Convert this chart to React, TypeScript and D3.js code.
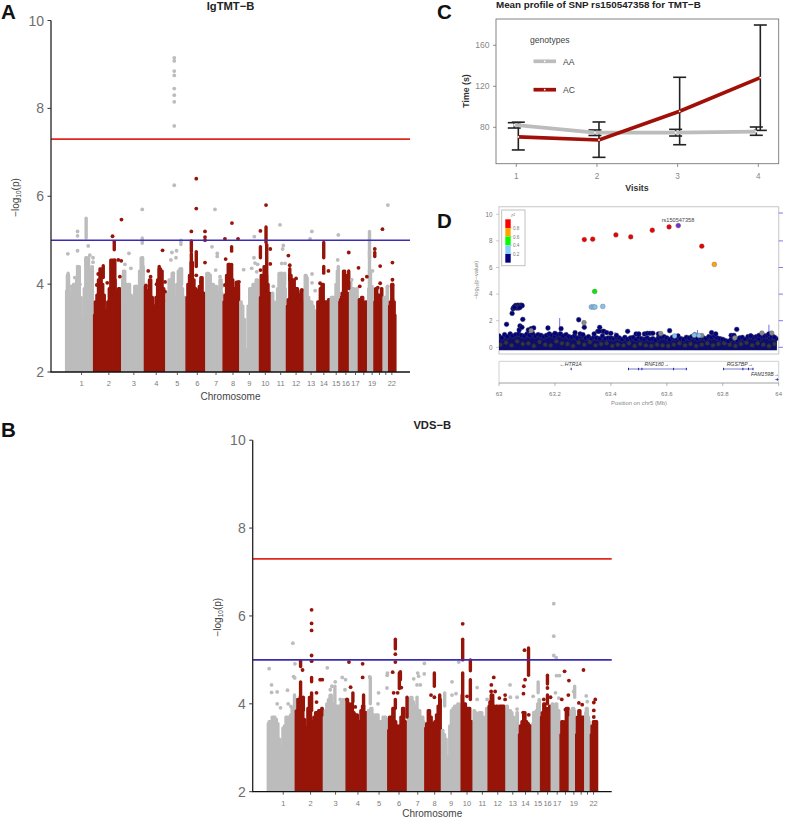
import React from "react";
import * as d3 from "d3";

const FONT = "'Liberation Sans', Arial, sans-serif";
const GREY = "#bcbcbc";
const RED = "#961408";

// ---------- Manhattan data ----------
const chromStarts = [0, 244, 489, 687, 873, 1050, 1222, 1373, 1518, 1690, 1794, 1925, 2080, 2190, 2307, 2382, 2475, 2552, 2633, 2688, 2767, 2816, 2881];
const chromTickPos = [140, 378, 596, 791, 975, 1149, 1312, 1460, 1603, 1742, 1876, 2010, 2141, 2252, 2360, 2444, 2528, 2600, 2673, 2737, 2792, 2845];
const chromTickLabels = ["1", "2", "3", "4", "5", "6", "7", "8", "9", "10", "11", "12", "13", "14", "15", "16", "17", "", "19", "", "", "22"];
const yTicks = [2, 4, 6, 8, 10];
const genomeWideLine = 7.3;
const suggestiveLine = 5;

const topsA = [
  [3.85, 4.2, 3.7, 3.55, 3.9, 4.0, 3.6, 4.1, 4.4, 3.7, 3.2, 2.8, 3.9, 4.6, 4.6, 4.3, 3.9, 4.4],
  [3.3, 3.6, 3.75, 4.1, 4.35, 4.0, 3.75, 3.4, 3.3, 3.6, 3.9, 4.55, 4.55, 4.1, 3.8, 3.6, 3.9, 3.7],
  [4.1, 4.3, 4.0, 3.8, 4.0, 3.75, 3.7, 3.7, 3.95, 3.9, 3.75, 4.3, 4.6, 4.4],
  [3.95, 3.85, 3.8, 4.1, 3.7, 3.5, 3.4, 3.7, 4.1, 4.35, 4.3, 3.9, 3.6],
  [3.6, 3.8, 4.1, 3.95, 4.25, 3.7, 3.6, 4.0, 4.3, 4.35, 3.9, 3.6, 3.7],
  [3.7, 4.0, 4.2, 4.5, 4.1, 3.9, 3.7, 3.85, 3.95, 4.15, 3.8, 3.75],
  [4.25, 4.25, 4.2, 3.95, 4.0, 3.8, 3.95, 3.7, 3.8, 4.1, 3.8],
  [3.6, 3.75, 4.2, 4.45, 4.4, 4.1, 3.6, 3.9, 4.05, 4.0],
  [3.6, 3.5, 3.2, 2.5, 2.4, 3.5, 3.9, 3.8, 4.0, 3.95, 4.1, 3.7],
  [3.7, 4.2, 3.9, 4.4, 4.2, 4.0, 3.8, 3.6],
  [3.8, 3.6, 3.3, 3.4, 3.9, 4.25, 4.25, 4.2, 4.2, 3.9],
  [3.5, 3.65, 4.2, 3.9, 4.1, 3.85, 3.9, 3.75, 3.7, 3.85, 3.6],
  [4.2, 4.15, 3.7, 3.5, 3.6, 3.5, 3.4, 3.35],
  [3.6, 3.6, 3.9, 4.0, 3.55, 3.6, 3.6, 3.65],
  [3.7, 3.6, 3.65, 3.7, 4.0, 4.3],
  [3.6, 3.7, 3.8, 4.3, 4.2, 3.8, 3.7],
  [4.1, 3.8, 3.9, 3.75, 3.6, 3.9],
  [3.65, 3.6, 3.7, 3.6, 3.3, 3.6],
  [3.9, 4.3, 3.95, 3.9],
  [3.6, 3.9, 3.65, 3.75, 3.7, 3.9],
  [3.7, 3.7, 3.6, 3.95],
  [3.5, 3.6, 4.0, 3.6, 3.3],
];
const pointsA: number[][] = [
  [948, 9.15], [948, 9.08], [948, 8.85], [948, 8.75], [948, 8.45], [948, 8.3], [948, 8.15], [948, 7.6], [948, 6.25],
  [20, 4.69], [105, 5.2], [105, 5.1], [105, 4.76], [198, 4.87], [212, 4.66], [240, 4.6], [240, 4.5], [81, 4.15], [52, 3.95], [125, 4.0],
  [553, 4.7], [570, 4.36], [518, 4.45], [669, 5.7], [620, 3.95],
  [928, 4.72], [968, 4.76], [963, 4.6], [919, 4.55], [940, 4.25],
  [1303, 5.7], [1323, 4.63], [1323, 4.7], [1277, 4.85], [1309, 4.32], [1259, 4.2], [1347, 4.17], [1365, 3.95],
  [1646, 5.08], [1643, 4.6], [1652, 4.48], [1675, 4.45], [1553, 4.33], [1623, 4.36], [1667, 4.28],
  [1870, 5.35], [1899, 4.88], [1893, 4.8], [1885, 4.47], [1914, 4.47], [1812, 3.95],
  [2147, 5.2], [2132, 5.03], [2149, 4.23], [2149, 4.03], [2176, 3.85],
  [2378, 5.12], [2373, 4.55], [2330, 3.7],
  [2554, 4.37], [2495, 4.1], [2525, 3.87],
  [2696, 4.8], [2676, 4.3], [2810, 5.8], [2810, 3.95],
  [488, 5.47], [410, 5.09], [460, 4.55], [486, 4.53], [285, 4.23], [273, 3.98], [364, 4.03], [474, 4.17],
  [721, 4.3], [742, 4.17], [701, 3.97], [846, 4.77], [868, 4.05], [868, 3.83], [794, 4.0],
  [1140, 6.4], [1140, 5.72], [1097, 5.2], [1216, 5.2], [1216, 5.07], [1216, 5.0], [1216, 4.49], [1181, 4.05], [1140, 4.2],
  [1451, 5.39], [1390, 5.03], [1504, 5.03], [1396, 4.57], [1390, 3.98], [1512, 4.05],
  [1748, 5.8], [1699, 5.21], [1785, 4.8], [1785, 4.46], [1700, 4.32],
  [1943, 4.65], [1955, 4.43], [2010, 4.13], [2060, 3.87],
  [2292, 4.3], [2219, 4.02],
  [2469, 4.72], [2423, 3.8],
  [2589, 4.1], [2565, 3.95], [2627, 4.17],
  [2763, 5.25], [2743, 4.41], [2743, 4.02], [2722, 3.92],
  [2850, 4.49], [2850, 4.1], [2850, 3.97], [2850, 3.65],
];
const spikesA: number[][] = [
  [180, 3.5, 4.6], [180, 5.05, 5.5], [23, 3.6, 4.25], [105, 3.7, 4.4], [669, 4.93, 5.05], [672, 4.25, 4.6], [1006, 4.9, 5.0], [1012, 4.0, 4.35],
  [2097, 3.8, 4.2], [2378, 3.7, 4.4], [2650, 4.6, 5.2], [2650, 4.28, 4.75], [2696, 4.63, 4.72],
  [1885, 4.0, 4.25], [1910, 4.0, 4.25],
  [425, 4.78, 4.97], [430, 3.65, 4.55], [329, 4.15, 4.42], [817, 3.9, 4.4], [1097, 4.74, 4.98], [1097, 4.2, 4.69], [1140, 4.4, 4.74],
  [1448, 4.75, 4.85], [1428, 3.9, 4.45], [1448, 3.9, 4.45], [1748, 4.95, 5.3], [1699, 4.6, 4.85], [1754, 3.9, 4.9], [1955, 4.1, 4.35], [2251, 4.6, 4.95], [2251, 4.25, 4.4], [2469, 3.9, 4.3],
];

const topsB = [
  [3.55, 3.6, 3.6, 3.7, 3.7, 3.65, 3.55, 3.2, 3.0, 2.9, 3.45, 3.5, 3.7, 3.7, 3.7, 3.75, 3.9, 3.9],
  [3.85, 4.1, 3.85, 4.15, 3.8, 3.65, 3.45, 3.3, 3.9, 4.15, 3.6, 3.45, 3.7, 3.8, 3.8, 3.85, 3.85, 3.9],
  [3.7, 3.85, 4.0, 4.1, 4.2, 4.0, 3.95, 3.95, 3.95, 3.95, 3.9, 4.05, 4.1, 4.1],
  [4.1, 4.0, 3.85, 4.0, 3.8, 3.7, 3.75, 3.5, 3.6, 3.85, 3.95, 3.8, 3.8],
  [3.85, 3.8, 3.9, 3.75, 3.7, 3.75, 3.75, 3.6, 3.6, 3.55, 3.7, 3.7, 3.65],
  [3.4, 3.7, 3.6, 3.9, 3.6, 3.5, 3.4, 3.5, 3.7, 3.9, 3.6, 3.5],
  [3.75, 4.1, 4.15, 4.05, 3.95, 3.85, 3.8, 3.85, 3.7, 3.7, 3.6],
  [3.45, 3.55, 3.85, 3.7, 3.5, 3.55, 3.6, 3.75, 3.95, 4.1],
  [3.4, 3.3, 3.2, 2.8, 2.6, 3.5, 3.85, 3.9, 3.95, 3.95, 4.0, 3.9],
  [4.2, 3.95, 4.0, 3.6, 3.9, 3.9, 3.6, 3.6],
  [3.85, 3.8, 3.75, 3.6, 3.8, 3.8, 3.7, 3.6, 3.7, 3.9],
  [3.95, 4.05, 4.2, 3.95, 3.9, 3.95, 3.85, 3.95, 3.95, 3.95, 3.9],
  [3.95, 3.85, 3.85, 3.8, 3.7, 3.5, 3.6, 3.8],
  [3.3, 3.5, 3.6, 3.8, 3.6, 3.55, 3.4, 3.5],
  [3.55, 3.75, 3.8, 3.85, 4.0, 4.1],
  [3.7, 3.8, 4.0, 3.9, 3.6, 3.9, 3.95],
  [4.0, 3.9, 3.95, 4.0, 3.8, 3.85],
  [3.3, 3.6, 3.4, 3.6, 3.9, 3.9],
  [3.7, 3.85, 3.9, 3.85],
  [3.3, 3.7, 3.85, 3.65, 3.7, 3.7],
  [3.8, 3.9, 3.7, 3.6],
  [3.3, 3.5, 3.6, 3.6, 3.6],
];
const pointsB: number[][] = [
  [17, 4.8], [38, 4.43], [38, 4.26], [87, 4.27], [87, 4.0], [116, 3.91], [177, 4.31], [183, 4.0], [207, 3.94], [224, 5.38], [230, 4.62], [240, 4.59], [242, 4.91],
  [524, 4.82], [593, 4.5], [564, 4.4], [550, 4.32], [654, 4.6], [683, 4.55], [678, 4.32], [637, 4.1],
  [893, 4.61], [971, 4.25], [966, 4.0], [1044, 4.36], [1048, 4.7], [1046, 4.65],
  [1370, 4.92], [1312, 4.7], [1320, 4.63], [1277, 4.57], [1306, 4.43], [1335, 4.43], [1369, 4.68],
  [1611, 4.5], [1611, 4.2], [1646, 4.23], [1670, 4.95],
  [1830, 4.37], [1830, 4.1], [1917, 4.1],
  [2117, 4.43], [2120, 4.15], [2178, 4.15], [2178, 3.88],
  [2318, 4.17], [2324, 3.8],
  [2498, 6.28], [2498, 5.54], [2498, 5.1], [2519, 5.05], [2522, 4.64], [2548, 4.64], [2513, 4.25], [2542, 4.13],
  [2672, 4.28], [2781, 4.18], [2790, 4.05],
  [387, 6.14], [387, 5.83], [387, 5.67], [387, 5.1], [387, 4.97], [308, 4.77], [430, 4.25], [430, 4.04], [462, 4.55], [480, 4.55],
  [713, 4.95], [832, 4.91], [832, 4.6], [727, 4.38], [695, 4.1], [768, 3.93],
  [1117, 5.13], [1117, 4.95], [1094, 4.72], [1169, 4.37], [1102, 4.25], [1137, 4.25],
  [1428, 4.2], [1457, 4.15],
  [1704, 5.82], [1742, 4.17],
  [1975, 4.6], [1954, 4.43], [1952, 4.28], [1987, 4.28], [2024, 4.13], [2074, 4.2], [2074, 4.1],
  [2243, 5.22], [2248, 4.55], [2237, 4.4], [2234, 4.23], [2231, 3.8], [2280, 3.75],
  [2443, 4.36], [2411, 4.1], [2470, 4.15],
  [2592, 4.74], [2630, 4.53], [2625, 4.2], [2568, 4.1], [2600, 3.87],
  [2757, 4.77], [2717, 4.02], [2746, 3.98],
  [2860, 4.1], [2847, 4.03], [2847, 3.85], [2847, 3.7],
];
const spikesB: number[][] = [
  [238, 3.9, 4.2], [590, 3.9, 4.4], [899, 4.0, 4.6], [1306, 3.9, 4.15], [1547, 3.95, 4.25], [2362, 4.25, 4.5], [2680, 4.15, 4.4],
  [387, 4.5, 4.6], [387, 3.85, 4.25], [291, 4.85, 4.97], [291, 4.05, 4.5], [315, 3.85, 4.15],
  [747, 4.05, 4.25], [840, 3.95, 4.2],
  [1117, 5.25, 5.47], [1161, 4.55, 4.73], [1152, 4.35, 4.7], [1117, 3.9, 4.1], [1219, 3.7, 4.15],
  [1457, 4.4, 4.7], [1504, 3.8, 4.2],
  [1704, 5.0, 5.47], [1704, 3.9, 4.7], [1771, 4.75, 5.0], [1771, 4.1, 4.55],
  [1954, 3.9, 4.2], [2278, 4.65, 5.27], [2443, 4.45, 4.65], [2443, 4.0, 4.2],
];

// ---------- Panel C data ----------
const visits = [1, 2, 3, 4];
const aaMean = [82.3, 74.8, 74.8, 75.8];
const aaLow = [79.3, 72, 71.5, 72.2];
const aaHigh = [84.5, 77.4, 78, 80.3];
const acMean = [70.6, 67.6, 95.6, 128.5];
const acLow = [57.9, 50.7, 63, 77];
const acHigh = [85, 85.2, 128.8, 179.8];

// ---------- Panel D data ----------
const ldTopBinStart = 63;
const ldTopBinStep = 0.01;
const ldTops = [
  0.85, 0.7, 0.95, 0.8, 1.0, 0.85, 0.95, 1.0, 0.9, 0.85,
  1.0, 0.9, 1.05, 0.85, 0.95, 0.9, 0.8, 0.9, 1.0, 0.9,
  0.85, 0.95, 1.0, 0.85, 0.95, 0.8, 0.75, 0.85, 0.7, 0.8,
  0.85, 0.7, 0.8, 0.65, 0.75, 0.7, 0.65, 0.85, 0.65, 0.7,
  0.7, 0.65, 0.75, 0.7, 0.6, 0.75, 0.6, 0.7, 0.75, 0.6,
  0.75, 0.65, 0.6, 0.7, 0.6, 0.65, 0.55, 0.7, 0.75, 0.8,
  0.7, 0.6, 0.75, 0.7, 0.85, 0.65, 0.6, 0.75, 0.7, 0.8,
  0.75, 0.65, 0.75, 0.7, 0.65, 0.8, 0.75, 0.85, 0.7, 0.65,
  0.6, 0.5, 0.45, 0.6, 0.7, 0.55, 0.7, 0.75, 0.6, 0.8,
  0.85, 0.75, 0.8, 0.65, 0.8, 0.85, 0.9, 0.7, 0.8, 0.65,
];
const ldNavy: number[][] = [
  [63.047, 2.55], [63.05, 2.9], [63.053, 3.0], [63.057, 3.1], [63.06, 3.15], [63.064, 3.05], [63.068, 3.17], [63.072, 3.1], [63.076, 3.15], [63.08, 3.17], [63.083, 3.13], [63.062, 2.95], [63.07, 2.95], [63.075, 3.0], [63.055, 3.0],
  [63.085, 2.1], [63.027, 1.73], [63.075, 1.6], [63.072, 1.3], [63.082, 1.5], [63.115, 1.4], [63.124, 1.45], [63.105, 1.3], [63.175, 1.45], [63.222, 1.4], [63.2, 1.05],
  [63.285, 2.07], [63.305, 1.5], [63.272, 1.1], [63.29, 1.0], [63.3, 0.95], [63.34, 1.0], [63.353, 1.2], [63.36, 1.5], [63.37, 1.2], [63.375, 1.2], [63.358, 1.2], [63.385, 1.1], [63.4, 1.05], [63.42, 0.9],
  [63.46, 1.2], [63.49, 1.0], [63.5, 1.0], [63.52, 1.0], [63.53, 1.05], [63.54, 1.05], [63.55, 1.05], [63.57, 1.0], [63.61, 1.25], [63.76, 1.1], [63.775, 1.0], [63.83, 0.9], [63.85, 1.35], [63.84, 0.9], [63.9, 0.85], [63.93, 0.9], [63.965, 1.0], [63.975, 0.8], [63.985, 0.75],
];
const ldRed: number[][] = [[63.305, 8.1], [63.335, 8.13], [63.418, 8.45], [63.471, 8.3], [63.548, 8.8], [63.608, 9.05], [63.725, 7.6]];
const ldOrange: number[][] = [[63.77, 6.23]];
const ldGreen: number[][] = [[63.342, 4.2]];
const ldSky: number[][] = [[63.33, 3.03], [63.337, 3.03], [63.343, 3.03], [63.371, 3.07], [63.628, 0.85], [63.698, 0.9], [63.715, 0.88]];
const ldGrey: number[][] = [[63.304, 1.85], [63.578, 1.03], [63.7, 0.95], [63.725, 0.88], [63.843, 0.7], [63.94, 1.07], [63.975, 1.07], [63.115, 1.25]];
const ldLead: number[][] = [[63.641, 9.15]];
const ldLowGrey = [
  0.2, 0.35, 0.15, 0.45, 0.25, 0.3, 0.1, 0.4, 0.2, 0.15, 0.45, 0.3, 0.25, 0.1, 0.35, 0.2, 0.4, 0.15, 0.25, 0.3,
  0.1, 0.2, 0.15, 0.3, 0.1, 0.25, 0.15, 0.1, 0.2, 0.15, 0.1, 0.2, 0.3, 0.15, 0.25, 0.1, 0.2, 0.3, 0.15, 0.25,
  0.3, 0.2, 0.1, 0.25, 0.35, 0.15, 0.3, 0.2, 0.1, 0.25,
];
const recombX = [63.217, 63.415, 63.71, 63.965];
const recombY = [2.2, 1.15, 1.3, 1.7];
const ldAxisTicks = [0, 2, 4, 6, 8, 10];
const posTicks = [63, 63.2, 63.4, 63.6, 63.8, 64];
const posTickLabels = ["63", "63.2", "63.4", "63.6", "63.8", "64"];
const rightTickRows = [0, 2, 4, 6, 8, 10];
const legendColors = ["#ff0000", "#ffa500", "#00ff00", "#87cefa", "#000080"];
const legendLabels = ["0.8", "0.6", "0.4", "0.2"];
const geneSpans = [
  { name: "RNF180", from: 63.463, to: 63.67, exons: [63.463, 63.499, 63.511, 63.624, 63.67], labelAt: 63.553, row: 0, arrow: 1, shift: 3 },
  { name: "RGS7BP", from: 63.803, to: 63.908, exons: [63.803, 63.872, 63.892, 63.908], labelAt: 63.85, row: 0, arrow: 1, shift: 3 },
  { name: "HTR1A", from: 63.258, to: 63.258, exons: [63.258], labelAt: 63.26, row: 0, arrow: -1, shift: -1 },
  { name: "FAM159B", from: 63.988, to: 64, exons: [63.995], labelAt: 63.94, row: 1, arrow: 1, shift: 3 },
];

function chromOf(pos: number) {
  return d3.bisectRight(chromStarts, pos) - 1;
}

function Manhattan({ ox, oy, title, tops, points, spikes, id, labelDy }: any) {
  const x = d3.scaleLinear().domain([0, 2881]).range([ox + 14.5, ox + 345]);
  const y = d3.scaleLinear().domain([2, 10]).range([oy + 351.5, oy]);
  const axisX = ox;
  const endX = ox + 359;
  const area = d3.area<number[]>().x((d) => x(d[0])).y0(y(2)).y1((d) => y(d[1])).curve(d3.curveStep);
  const colorOf = (pos: number) => (chromOf(pos) % 2 === 0 ? GREY : RED);
  return (
    <g fontFamily={FONT}>
      <clipPath id={id}>
        <rect x={ox} y={oy - 5} width={370} height={356.5} />
      </clipPath>
      <g clipPath={`url(#${id})`}>
        {tops.map((t: number[], i: number) => {
          const a = chromStarts[i];
          const b = chromStarts[i + 1];
          const scale = d3.scaleLinear().domain([0, t.length - 1]).range([a + 8, b - 8]);
          const pts = t.map((v, j) => [scale(j), v]);
          const col = i % 2 === 0 ? GREY : RED;
          return <path key={i} d={area(pts) as string} fill={col} stroke={col} strokeWidth={3} strokeLinejoin="round" />;
        })}
        {spikes.map((s: number[], i: number) => (
          <line key={i} x1={x(s[0])} x2={x(s[0])} y1={y(s[1])} y2={y(s[2])} stroke={colorOf(s[0])} strokeWidth={3.4} strokeLinecap="round" />
        ))}
        {points.map((p: number[], i: number) => (
          <circle key={i} cx={x(p[0])} cy={y(p[1])} r={1.9} fill={colorOf(p[0])} />
        ))}
      </g>
      <line x1={axisX} x2={endX} y1={y(genomeWideLine)} y2={y(genomeWideLine)} stroke="#e0281e" strokeWidth={1.6} />
      <line x1={axisX} x2={endX} y1={y(suggestiveLine)} y2={y(suggestiveLine)} stroke="#3a2db5" strokeWidth={1.6} />
      <line x1={axisX} x2={axisX} y1={y(10)} y2={y(2)} stroke="#222" strokeWidth={1.3} />
      <line x1={axisX - 0.6} x2={endX} y1={y(2)} y2={y(2)} stroke="#111" strokeWidth={1.3} />
      {yTicks.map((t) => (
        <g key={t}>
          <line x1={axisX - 3.5} x2={axisX} y1={y(t)} y2={y(t)} stroke="#333" strokeWidth={1} />
          <text x={axisX - 7} y={y(t) + 5} fontSize={14} fill="#6e6e6e" textAnchor="end">{t}</text>
        </g>
      ))}
      {chromTickPos.map((p, i) => (
        <g key={i}>
          <line x1={x(p)} x2={x(p)} y1={y(2)} y2={y(2) + 3} stroke="#333" strokeWidth={0.8} />
          <text x={x(p)} y={y(2) + 14} fontSize={7.5} fill="#7c7c7c" textAnchor="middle">{chromTickLabels[i]}</text>
        </g>
      ))}
      <text x={ox + 179.5} y={y(2) + labelDy} fontSize={10} fill="#444" textAnchor="middle">Chromosome</text>
      <text x={ox + 179.5} y={oy - 11} fontSize={11.2} fontWeight="bold" fill="#222" textAnchor="middle">{title}</text>
      <text transform={`translate(${ox - 32},${oy + 177}) rotate(-90)`} fontSize={10} fill="#444" textAnchor="middle">
        −log<tspan fontSize={6.5} dy={2}>10</tspan><tspan dy={-2}>(p)</tspan>
      </text>
    </g>
  );
}

function PanelC() {
  const x = d3.scaleLinear().domain([1, 4]).range([516.3, 758.3]);
  const y = d3.scaleLinear().domain([80, 160]).range([127.3, 45.3]);
  const line = d3.line<number[]>().x((d) => d[0]).y((d) => d[1]);
  const dodge = 0.025;
  const aa = visits.map((v, i) => [x(v - dodge), y(aaMean[i])]);
  const ac = visits.map((v, i) => [x(v + dodge), y(acMean[i])]);
  const err = (vx: number, lo: number, hi: number, k: string) => (
    <g key={k} stroke="#222" strokeWidth={1.6}>
      <line x1={vx} x2={vx} y1={y(lo)} y2={y(hi)} />
      <line x1={vx - 6.5} x2={vx + 6.5} y1={y(lo)} y2={y(lo)} />
      <line x1={vx - 6.5} x2={vx + 6.5} y1={y(hi)} y2={y(hi)} />
    </g>
  );
  return (
    <g fontFamily={FONT}>
      <rect x={496} y={19} width={282.7} height={144.7} fill="none" stroke="#777" strokeWidth={0.9} />
      {[80, 120, 160].map((t) => (
        <g key={t}>
          <line x1={493} x2={496} y1={y(t)} y2={y(t)} stroke="#666" strokeWidth={0.7} />
          <text x={489.5} y={y(t) + 3} fontSize={8.6} fill="#888" textAnchor="end">{t}</text>
        </g>
      ))}
      {visits.map((v) => (
        <g key={v}>
          <line x1={x(v)} x2={x(v)} y1={163.7} y2={167} stroke="#666" strokeWidth={0.7} />
          <text x={x(v)} y={178.6} fontSize={8.2} fill="#888" textAnchor="middle">{v}</text>
        </g>
      ))}
      <text x={637} y={191} fontSize={8.8} fontWeight="bold" fill="#333" textAnchor="middle">Visits</text>
      <text transform="translate(468.5,91) rotate(-90)" fontSize={8.8} fontWeight="bold" fill="#333" textAnchor="middle">Time (s)</text>
      <text x={496} y={7.8} fontSize={9.8} fontWeight="bold" fill="#222">Mean profile of SNP rs150547358 for TMT−B</text>
      {visits.map((v, i) => err(aa[i][0], aaLow[i], aaHigh[i], "a" + v))}
      {visits.map((v, i) => err(ac[i][0], acLow[i], acHigh[i], "c" + v))}
      <path d={line(aa) as string} fill="none" stroke={GREY} strokeWidth={3.7} />
      <path d={line(ac) as string} fill="none" stroke="#a01008" strokeWidth={3.7} />
      {aa.map((p, i) => <circle key={i} cx={p[0]} cy={p[1]} r={0.9} fill="#fff" />)}
      {ac.map((p, i) => <circle key={i} cx={p[0]} cy={p[1]} r={0.9} fill="#fff" />)}
      <text x={530} y={42.5} fontSize={8.6} fill="#444">genotypes</text>
      <line x1={533.5} x2={556} y1={61.3} y2={61.3} stroke={GREY} strokeWidth={3.7} />
      <circle cx={544.7} cy={61.3} r={0.9} fill="#fff" />
      <text x={563} y={64.5} fontSize={8.6} fill="#444">AA</text>
      <line x1={533.5} x2={556} y1={89.7} y2={89.7} stroke="#a01008" strokeWidth={3.7} />
      <circle cx={544.7} cy={89.7} r={0.9} fill="#fff" />
      <text x={563} y={93} fontSize={8.6} fill="#444">AC</text>
    </g>
  );
}

function PanelD() {
  const x = d3.scaleLinear().domain([63, 64]).range([499, 778.7]);
  const y = d3.scaleLinear().domain([0, 10]).range([347.3, 214.3]);
  const binX = ldTops.map((_, i) => ldTopBinStart + i * ldTopBinStep);
  const env = ldTops.map((v, i) => [binX[i], v]);
  const area = d3.area<number[]>().x((d) => x(d[0])).y0(y(0) + 2).y1((d) => y(d[1]));
  const dots = (list: number[][], fill: string, stroke: string, r = 2.4) =>
    list.map((p, i) => <circle key={fill + i} cx={x(p[0])} cy={y(p[1])} r={r} fill={fill} stroke={stroke} strokeWidth={0.4} />);
  const geneY = [369, 379.5];
  return (
    <g fontFamily={FONT}>
      <defs>
        <filter id="soft" x="-5%" y="-5%" width="110%" height="110%">
          <feGaussianBlur stdDeviation="0.35" />
        </filter>
        <clipPath id="dClip"><rect x={499} y={206.7} width={279.7} height={147.3} /></clipPath>
      </defs>
      <rect x={499} y={206.7} width={279.7} height={147.3} fill="none" stroke="#d0d0d0" strokeWidth={1.2} />
      <g clipPath="url(#dClip)" filter="url(#soft)">
        {recombX.map((m, i) => (
          <line key={i} x1={x(m)} x2={x(m)} y1={y(0)} y2={y(recombY[i])} stroke="#4a4af0" strokeWidth={0.8} />
        ))}
        <path d={area(env) as string} fill="#11116a" stroke="#11116a" strokeWidth={2} />
        {dots(env, "#000080", "#444")}
        {dots(ldLowGrey.map((v, i) => [63 + i * 0.02 + 0.005, v]), "#34343f", "#333", 1.9)}
        {dots(ldNavy, "#000080", "#444")}
        {dots(ldGrey, "#8a8a8a", "#555")}
        {dots(ldSky, "#7fc4f5", "#666")}
        {dots(ldGreen, "#00ee00", "#666")}
        {dots(ldOrange, "#ffa500", "#666")}
        {dots(ldRed, "#ee0000", "#666")}
        {dots(ldLead, "#7a2fc8", "#555")}
      </g>
      {rightTickRows.map((t) => (
        <line key={t} x1={778.7} x2={783} y1={y(t) - (t === 10 ? 1.3 : 0)} y2={y(t) - (t === 10 ? 1.3 : 0)} stroke="#5a5af0" strokeWidth={0.8} />
      ))}
      {ldAxisTicks.map((t) => (
        <g key={t}>
          <line x1={496} x2={499} y1={y(t)} y2={y(t)} stroke="#aaa" strokeWidth={0.6} />
          <text x={492.5} y={y(t) + 2.3} fontSize={6.3} fill="#777" textAnchor="end">{t}</text>
        </g>
      ))}
      <text transform="translate(478,280) rotate(-90)" fontSize={5.6} fill="#888" textAnchor="middle">−log₁₀(p−value)</text>
      <text x={678} y={222} fontSize={5.6} fill="#444" textAnchor="middle">rs150547358</text>
      {/* legend */}
      <rect x={501.7} y={210} width={23.3} height={55.7} fill="#fff" stroke="#bbb" strokeWidth={0.9} />
      <text x={513} y={216.8} fontSize={5.6} fontStyle="italic" fill="#777" textAnchor="middle">r²</text>
      {legendColors.map((c, i) => (
        <rect key={c} x={505.3} y={219.3 + i * 8.67} width={5.4} height={8.67} fill={c} />
      ))}
      {legendLabels.map((l, i) => (
        <g key={l}>
          <line x1={510.7} x2={512.3} y1={228 + i * 8.67} y2={228 + i * 8.67} stroke="#888" strokeWidth={0.4} />
          <text x={513} y={230 + i * 8.67} fontSize={4.6} fill="#777">{l}</text>
        </g>
      ))}
      {/* gene panel */}
      <line x1={499} x2={778.7} y1={361.3} y2={361.3} stroke="#d0d0d0" strokeWidth={1} />
      <line x1={499} x2={499} y1={361.3} y2={383} stroke="#d0d0d0" strokeWidth={1} />
      <line x1={778.7} x2={778.7} y1={361.3} y2={383} stroke="#d0d0d0" strokeWidth={1} />
      <line x1={499} x2={778.7} y1={383} y2={383} stroke="#888" strokeWidth={0.8} />
      {posTicks.map((t, i) => (
        <g key={t}>
          <line x1={x(t)} x2={x(t)} y1={383} y2={386} stroke="#888" strokeWidth={0.6} />
          <text x={x(t)} y={395.5} fontSize={6} fill="#777" textAnchor="middle">{posTickLabels[i]}</text>
        </g>
      ))}
      <text x={639} y={404.5} fontSize={5.9} fill="#888" textAnchor="middle">Position on chr5 (Mb)</text>
      {geneSpans.map((g) => {
        const gy = geneY[g.row];
        const label = g.arrow > 0 ? `${g.name}→` : `←${g.name}`;
        return (
          <g key={g.name}>
            <line x1={x(g.from)} x2={x(g.to)} y1={gy} y2={gy} stroke="#2222aa" strokeWidth={0.6} />
            {g.exons.map((e) => <rect key={e} x={x(e) - 0.5} y={gy - 1.2} width={1} height={2.4} fill="#2222aa" />)}
            <text x={x(g.labelAt) + g.shift} y={gy - 3.2} fontSize={5.2} fontStyle="italic" fill="#333" textAnchor="middle">{label}</text>
          </g>
        );
      })}
    </g>
  );
}

export default function App() {
  return (
    <svg width={786} height={820} style={{ position: "absolute", left: 0, top: 0, background: "#fff" }}>
      <Manhattan id="clipA" ox={51} oy={20.5} title="IgTMT−B" tops={topsA} points={pointsA} spikes={spikesA} labelDy={27.5} />
      <Manhattan id="clipB" ox={252.7} oy={440.2} title="VDS−B" tops={topsB} points={pointsB} spikes={spikesB} labelDy={25.3} />
      <PanelC />
      <PanelD />
      <g fontFamily={FONT} fontWeight="bold" fontSize={20.5} fill="#111">
        <text x={1} y={19}>A</text>
        <text x={1} y={437}>B</text>
        <text x={437} y={19}>C</text>
        <text x={437} y={228}>D</text>
      </g>
    </svg>
  );
}
